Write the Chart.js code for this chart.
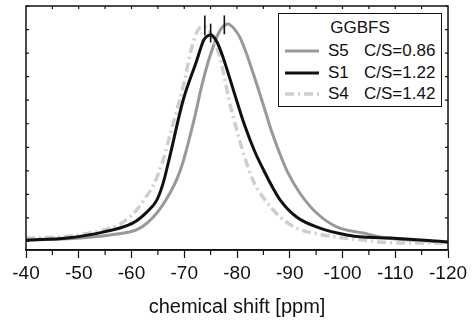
<!DOCTYPE html>
<html>
<head>
<meta charset="utf-8">
<script src="https://cdn.jsdelivr.net/npm/chart.js@4.4.0/dist/chart.umd.min.js"></script>
<style>
  body { margin: 0; background: #fff; }
  #wrap { position: relative; width: 474px; height: 322px; }
  .legend {
    position: absolute; left: 278px; top: 13px; width: 162px; height: 92px;
    border: 1.5px solid #111; background: #fff;
    font-family: "Liberation Sans", Arial, sans-serif; font-size: 17px; color: #111;
  }
  .legend div { position: absolute; line-height: 20px; height: 20px; white-space: nowrap; }
  .legend svg { position: absolute; }
</style>
</head>
<body>
<div id="wrap">
  <canvas id="chart" width="474" height="322"></canvas>
  <div class="legend">
    <div style="left:0; width:162px; text-align:center; top:4px;">GGBFS</div>
    <svg style="left:6px; top:29px;" width="34" height="16"><line x1="0" y1="8" x2="34" y2="8" stroke="#999" stroke-width="3"/></svg>
    <div style="left:49px; top:27px;">S5</div><div style="left:85px; top:27px;">C/S=0.86</div>
    <svg style="left:6px; top:51px;" width="34" height="16"><line x1="0" y1="8" x2="34" y2="8" stroke="#111" stroke-width="3"/></svg>
    <div style="left:49px; top:49px;">S1</div><div style="left:85px; top:49px;">C/S=1.22</div>
    <svg style="left:6px; top:72px;" width="34" height="16"><line x1="0" y1="8" x2="34" y2="8" stroke="#cfcfcf" stroke-width="3.5" stroke-dasharray="9 4 2 4"/></svg>
    <div style="left:49px; top:70px;">S4</div><div style="left:85px; top:70px;">C/S=1.42</div>
  </div>
</div>
<script>
// Spectra (shift in ppm, intensity in arbitrary units)
const s5Shift = [-40, -47.8, -55.9, -61.6, -64.8, -67.3, -68.6, -69.8, -71.0, -72.0, -73.3, -74.5, -75.3, -76.2, -77.2, -78.3, -79.4, -80.6, -82.0, -83.5, -85.0, -86.6, -88.6, -89.5, -91.9, -95.1, -98.9, -103.9, -107.1, -112.8, -120];
const s5Int   = [0.06, 0.12, 0.28, 0.57, 1.21, 2.06, 2.65, 3.40, 4.40, 5.30, 6.60, 7.60, 8.15, 8.70, 9.10, 9.24, 9.05, 8.65, 7.85, 6.85, 5.80, 4.65, 3.46, 2.99, 2.06, 1.21, 0.62, 0.36, 0.19, 0.06, -0.02];

const s1Shift = [-40, -47.8, -54.6, -60.3, -62.9, -64.8, -66.0, -67.1, -69.8, -72.4, -73.0, -73.7, -75.1, -76.2, -77.2, -79.9, -81.5, -83.4, -84.9, -86.5, -88.2, -91.3, -95.7, -100.8, -103.9, -109.0, -120];
const s1Int   = [0.06, 0.15, 0.40, 0.79, 1.25, 1.76, 2.48, 3.46, 6.01, 7.71, 8.13, 8.56, 8.77, 8.47, 7.92, 6.01, 4.90, 3.80, 3.10, 2.40, 1.76, 1.04, 0.57, 0.28, 0.19, 0.15, -0.02];

const s4Shift = [-40, -48.3, -55.9, -58.2, -61.0, -62.6, -64.1, -66.0, -67.3, -68.6, -70.0, -71.3, -72.6, -73.7, -74.9, -75.6, -76.5, -77.4, -78.4, -79.8, -81.5, -83.0, -84.9, -88.2, -91.3, -96.3, -103.9, -110.3, -120];
const s4Int   = [0.15, 0.23, 0.57, 0.79, 1.34, 1.85, 2.36, 3.46, 4.52, 5.58, 6.77, 8.13, 8.98, 9.11, 8.90, 8.55, 8.00, 7.20, 6.10, 4.86, 3.55, 2.61, 1.89, 1.04, 0.57, 0.28, 0.06, -0.06, -0.06];

// peak position markers: S5, S1, S4
const peakShift  = [-77.6, -75.0, -73.9];
const peakTop    = [9.60, 9.25, 9.60];
const peakBottom = [8.80, 8.45, 8.75];

const xTicks = [-40, -50, -60, -70, -80, -90, -100, -110, -120];

const FONT = '"Liberation Sans", Arial, sans-serif';
const AXIS = '#111';

function pairs(xs, ys) {
    return xs.map((x, i) => ({ x: x, y: ys[i] }));
}

const curveDefaults = {
    fill: false,
    pointRadius: 0,
    borderWidth: 3,
    cubicInterpolationMode: 'monotone'
};

const datasets = [
    Object.assign({ label: 'S1', data: pairs(s1Shift, s1Int), borderColor: '#111', order: 1 }, curveDefaults),
    Object.assign({ label: 'S4', data: pairs(s4Shift, s4Int), borderColor: '#cfcfcf', borderDash: [9, 4, 2, 4], order: 2 }, curveDefaults, { borderWidth: 3.5 }),
    Object.assign({ label: 'S5', data: pairs(s5Shift, s5Int), borderColor: '#999', order: 3 }, curveDefaults)
];

peakShift.forEach((p, i) => {
    datasets.push({
        label: 'peak' + i,
        data: [{ x: p, y: peakBottom[i] }, { x: p, y: peakTop[i] }],
        borderColor: '#111',
        borderWidth: 1.6,
        pointRadius: 0,
        order: 0
    });
});

// Frame, minor ticks and y ticks (the figure has no y labels)
const framePlugin = {
    id: 'frame',
    afterDraw(chart) {
        const { ctx, chartArea: a } = chart;
        const xs = chart.scales.x, ys = chart.scales.y;
        ctx.save();
        ctx.strokeStyle = AXIS;
        ctx.lineWidth = 1.5;
        ctx.strokeRect(a.left, a.top, a.right - a.left, a.bottom - a.top);

        ctx.lineWidth = 1.2;
        ctx.beginPath();
        // minor ticks on the bottom axis
        for (let v = -45; v > -120; v -= 10) {
            const px = xs.getPixelForValue(v);
            ctx.moveTo(px, a.bottom);
            ctx.lineTo(px, a.bottom + 5);
        }
        // inward ticks on the top axis
        for (let v = -45; v > -120; v -= 5) {
            const px = xs.getPixelForValue(v);
            ctx.moveTo(px, a.top);
            ctx.lineTo(px, a.top + 3);
        }
        // inward ticks on the left and right axes
        for (let v = 0; v <= 10; v++) {
            const py = ys.getPixelForValue(v);
            ctx.moveTo(a.left, py);
            ctx.lineTo(a.left + 3, py);
            ctx.moveTo(a.right, py);
            ctx.lineTo(a.right - 3, py);
        }
        ctx.stroke();
        ctx.restore();
    }
};

new Chart(document.getElementById('chart').getContext('2d'), {
    type: 'line',
    data: { datasets: datasets },
    options: {
        responsive: false,
        animation: false,
        layout: { padding: { left: 26, right: 26, top: 6, bottom: 0 } },
        plugins: { legend: { display: false }, tooltip: { enabled: false } },
        scales: {
            x: {
                type: 'linear',
                reverse: true,
                min: -120,
                max: -40,
                afterBuildTicks: s => { s.ticks = xTicks.map(v => ({ value: v })); },
                afterFit: s => { s.height = 72; },
                ticks: {
                    font: { family: FONT, size: 19 },
                    color: AXIS,
                    padding: 4,
                    maxRotation: 0,
                    autoSkip: false
                },
                grid: {
                    drawOnChartArea: false,
                    drawTicks: true,
                    tickLength: 8,
                    tickColor: AXIS,
                    tickWidth: 1.2
                },
                border: { display: true, color: AXIS, width: 1.5 },
                title: {
                    display: true,
                    text: 'chemical shift [ppm]',
                    font: { family: FONT, size: 20 },
                    color: AXIS,
                    padding: { top: 0, bottom: 3 }
                }
            },
            y: { display: false, min: -0.36, max: 10 }
        }
    },
    plugins: [framePlugin]
});
</script>
</body>
</html>
